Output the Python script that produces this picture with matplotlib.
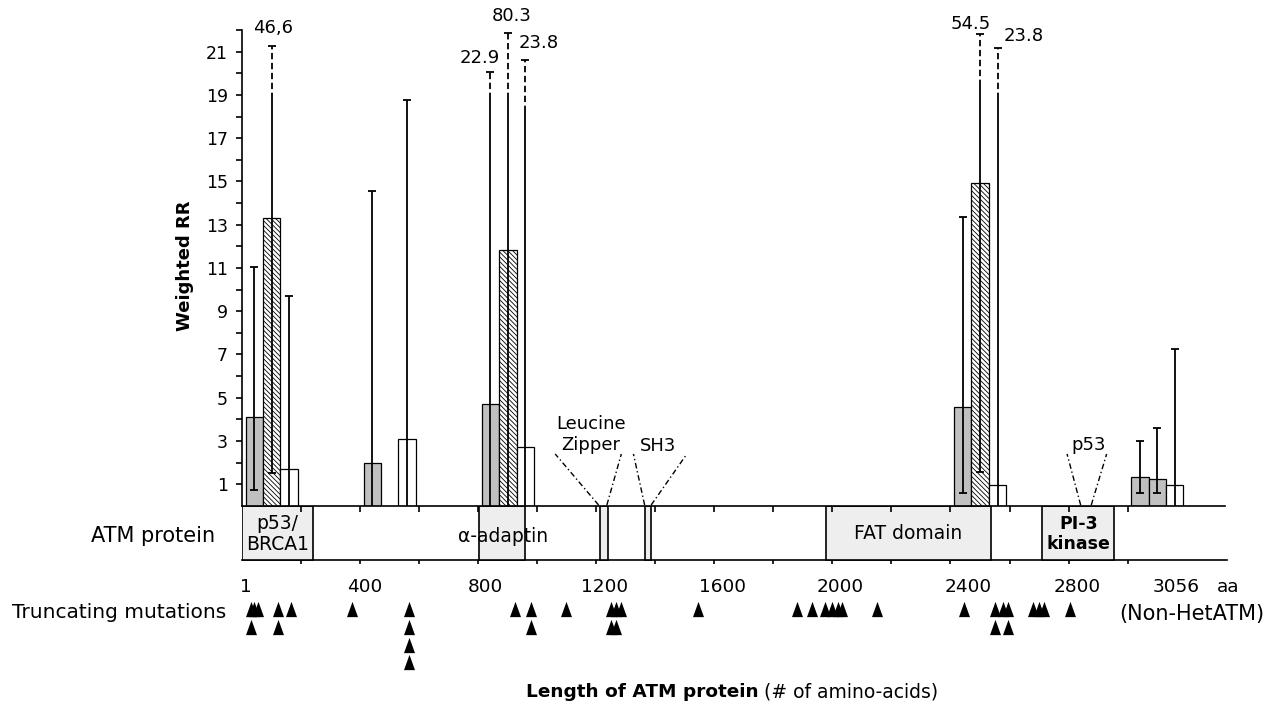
import numpy as np
import matplotlib
matplotlib.use('Agg')
import matplotlib.pyplot as plt
from matplotlib.patches import Rectangle
from matplotlib.path import Path

plt.rcParams['font.family'] = ['DejaVu Sans']
plt.rcParams['hatch.linewidth'] = 0.6

# ------------------------------------------------------------------ data
region_start = [0, 400, 800, 2400, 3000]          # aa, each region 200 aa wide
region_width = 200

rr_gray = [4.1, 2.0, 4.7, 4.55, 1.35]
rr_mid = [13.3, np.nan, 11.85, 14.95, 1.25]
mid_style = ['hatch', 'hatch', 'hatch', 'hatch', 'gray']
rr_white = [1.7, 3.1, 2.7, 0.97, 0.97]

lo_gray = [0.72, 0.0, 0.0, 0.6, 0.6]
hi_gray = [11.06, 14.56, 22.9, 13.35, 2.99]
lo_mid = [1.5, np.nan, 0.0, 1.57, 0.6]
hi_mid = [46.6, np.nan, 80.3, 54.5, 3.6]
lo_white = [0.0, 0.0, 0.0, 0.0, 0.0]
hi_white = [9.72, 18.76, 23.8, 23.8, 7.25]

# upper limits off the scale: (solid top, dashed top, label, label x, label y)
break_gray = {2: (18.8, 20.05, '22.9', 805, 20.7)}
break_mid = {0: (18.8, 21.25, '46,6', 105, 22.1),
             2: (18.8, 21.85, '80.3', 915, 22.63),
             3: (19.4, 21.8, '54.5', 2469, 22.3)}
break_white = {2: (18.2, 20.6, '23.8', 1005, 21.4),
               3: (18.8, 21.17, '23.8', 2648, 21.74)}

# protein domains (aa start, aa end, label, bold)
domains = [(0, 241, 'p53/\nBRCA1', False),
           (803, 959, '', False),
           (1213, 1240, '', False),
           (1365, 1386, '', False),
           (1979, 2537, 'FAT domain', False),
           (2711, 2955, 'PI-3\nkinase', True)]

# binding-site call-outs: text, base left/right (aa), top left/right (aa), text x, text y
callouts = [('Leucine\nZipper', 1208, 1236, 1061, 1285, 1183, 3.3),
            ('SH3', 1364, 1386, 1326, 1507, 1410, 2.77),
            ('p53', 2841, 2877, 2795, 2929, 2868, 2.82)]

aa_labels = ['1', '400', '800', '1200', '1600', '2000', '2400', '2800', '3056']
aa_label_x = [12, 415, 824, 1227, 1629, 2027, 2461, 2829, 3164]

mutations_aa = [31, 31, 42, 54, 121, 121, 166, 374, 566, 566, 566, 566,
                925, 980, 980, 1098, 1250, 1250, 1267, 1267, 1283, 1544,
                1881, 1932, 1976, 1997, 2020, 2034, 2152, 2447,
                2551, 2551, 2577, 2594, 2594, 2681, 2700, 2718, 2805]

# ------------------------------------------------------------------ figure
W, H = 1274, 706
fig = plt.figure(figsize=(W / 100, H / 100), dpi=100)

x0_px, x1_px = 242, 1225
base_px, top_px = 505.9, 30.0
XMAX = 3330

ax1 = fig.add_axes([x0_px / W, 1 - base_px / H, (x1_px - x0_px) / W, (base_px - top_px) / H])
ax2 = fig.add_axes([x0_px / W, 0, (x1_px - x0_px) / W, 1 - base_px / H])
ax1.set_zorder(2)
ax1.patch.set_alpha(0)
ax2.set_zorder(1)

ax1.set_xlim(0, XMAX)
ax1.set_ylim(0, 22)
for s in ['top', 'right']:
    ax1.spines[s].set_visible(False)
ax1.spines['left'].set_linewidth(1.2)
ax1.spines['bottom'].set_linewidth(1.2)
ax1.set_yticks(np.arange(1, 22, 2))
ax1.set_yticks(np.arange(2, 23, 2), minor=True)
ax1.set_xticks(np.arange(200, 3001, 200))
ax1.set_xticklabels([])
ax1.tick_params(axis='y', which='both', direction='out', length=4, width=1.2,
                labelsize=12.5, pad=6)
ax1.tick_params(axis='x', which='both', direction='out', length=4, width=1.2)
ax1.text(-0.058, 0.504, 'Weighted RR', transform=ax1.transAxes, rotation=90,
         ha='center', va='center', fontsize=13, fontweight='bold')

offsets = [41.5, 100.5, 159.5]
bw = 59
gray = '#c0c0c0'
rs = np.array(region_start, dtype=float)
xg = rs + offsets[0]
xm = rs + offsets[1]
xw = rs + offsets[2]

ax1.bar(xg, rr_gray, width=bw, color=gray, edgecolor='black', linewidth=0.9, zorder=2)
for i in range(len(rs)):
    if np.isnan(rr_mid[i]):
        continue
    if mid_style[i] == 'hatch':
        ax1.bar(xm[i], rr_mid[i], width=bw, color='white', edgecolor='black',
                linewidth=0.9, hatch='\\' * 7, zorder=2)
    else:
        ax1.bar(xm[i], rr_mid[i], width=bw, color=gray, edgecolor='black',
                linewidth=0.9, zorder=2)
ax1.bar(xw, rr_white, width=bw, color='white', edgecolor='black', linewidth=0.9, zorder=2)

elw = 1.3
cap_kw = dict(marker='_', ms=5.5, mew=1.3, color='black', ls='none', zorder=4,
              clip_on=False)


def draw_err(x, lo, hi, brk):
    if np.isnan(hi):
        return
    if brk is None:
        ax1.vlines(x, lo, hi, color='black', lw=elw, zorder=3)
        ax1.plot([x], [hi], **cap_kw)
    else:
        solid, dtop, lab, lx, ly = brk
        ax1.vlines(x, lo, solid, color='black', lw=elw, zorder=3)
        ax1.plot([x, x], [solid, dtop], color='black', lw=elw, ls=(0, (3.5, 2)),
                 zorder=3)
        ax1.plot([x], [dtop], **cap_kw)
        ax1.text(lx, ly, lab, ha='center', va='center', fontsize=13, clip_on=False)
    if lo > 0:
        ax1.plot([x], [lo], **cap_kw)


for i in range(len(rs)):
    draw_err(xg[i], lo_gray[i], hi_gray[i], break_gray.get(i))
    draw_err(xm[i], lo_mid[i], hi_mid[i], break_mid.get(i))
    draw_err(xw[i], lo_white[i], hi_white[i], break_white.get(i))

for txt, bl, br, tl, tr, tx, ty in callouts:
    ls = (0, (4, 2, 1, 2))
    ax1.plot([bl, tl], [0.04, 2.4], color='black', lw=1.0, ls=ls, zorder=3)
    ax1.plot([br, tr], [0.04, 2.4], color='black', lw=1.0, ls=ls, zorder=3)
    ax1.text(tx, ty, txt, ha='center', va='center', fontsize=13, linespacing=1.25)

# ------------------------------------------------------------------ lower panel
ax2.set_xlim(0, XMAX)
ax2.set_ylim(H - base_px, 0)
ax2.axis('off')

band_h = 54
ax2.plot([0, XMAX + 8], [band_h, band_h], color='black', lw=1.2, clip_on=False)
ax2.vlines(np.arange(200, 3001, 200), band_h, band_h + 4, color='black', lw=1.2)
for a, b, lab, bold in domains:
    ax2.add_patch(Rectangle((a, 0), b - a, band_h, facecolor='#eeeeee',
                            edgecolor='black', lw=1.2, zorder=2))
    if lab:
        ax2.text((a + b) / 2, band_h / 2 + 1, lab, ha='center', va='center',
                 fontsize=12.5 if bold else 13.5,
                 fontweight='bold' if bold else 'normal', linespacing=1.1, zorder=3)
ax2.text(885, 31, '\u03b1-adaptin', ha='center', va='center', fontsize=13.5, zorder=3)

ax2.text(-92, 30, 'ATM protein', ha='right', va='center', fontsize=15)
ax2.text(-52, 107, 'Truncating mutations', ha='right', va='center', fontsize=14.5)

for lab, lx in zip(aa_labels, aa_label_x):
    ax2.text(lx, 81, lab, ha='center', va='center', fontsize=13.3)
ax2.text(3342, 81, 'aa', ha='center', va='center', fontsize=13.3, clip_on=False)
ax2.text(3219, 108, '(Non-HetATM)', ha='center', va='center', fontsize=15,
         clip_on=False)

tri = Path([(-0.72, -1), (0.72, -1), (0, 1), (-0.72, -1)],
           [Path.MOVETO, Path.LINETO, Path.LINETO, Path.CLOSEPOLY])
row_y = [103, 121.5, 139, 156]
seen = {}
mx, my = [], []
for m in mutations_aa:
    k = seen.get(m, 0)
    seen[m] = k + 1
    mx.append(m)
    my.append(row_y[k])
ax2.plot(mx, my, ls='none', marker=tri, ms=11, color='black', mew=0)

ax2.text(1749, 186, 'Length of ATM protein', ha='right', va='center',
         fontsize=13.3, fontweight='bold')
ax2.text(1749, 186, ' (# of amino-acids)', ha='left', va='center', fontsize=13.5)

fig.savefig('out.png', dpi=100)
